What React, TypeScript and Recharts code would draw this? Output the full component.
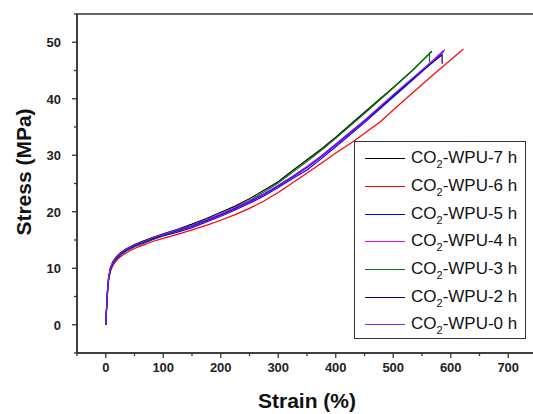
import React from 'react';
import { LineChart, Line, XAxis, YAxis, Label } from 'recharts';

type P = { strain: number; stress: number };
const pts = (arr: number[][]): P[] => arr.map(([strain, stress]) => ({ strain, stress }));

const wpu7h = pts([
  [0, 0], [1, 2.2], [3, 6.0], [5, 8.4], [8, 10.0], [12, 11.1], [18, 12.0], [25, 12.7], [35, 13.4], [50, 14.2],
  [65, 14.8], [80, 15.4], [100, 16.1], [125, 16.9], [150, 17.8], [175, 18.8], [200, 19.9], [225, 21.0], [250, 22.3],
  [275, 23.8], [300, 25.3], [325, 27.3], [350, 29.2], [375, 31.1], [400, 33.2], [450, 37.6], [500, 42.0], [535, 45.2],
  [567, 48.4],
]);
const wpu6h = pts([
  [0, 0], [1, 1.9], [3, 5.4], [5, 7.8], [8, 9.4], [12, 10.4], [18, 11.3], [25, 12.0], [35, 12.7], [50, 13.5],
  [65, 14.1], [80, 14.7], [100, 15.3], [125, 16.0], [150, 16.8], [175, 17.6], [200, 18.5], [225, 19.5], [250, 20.6],
  [275, 21.9], [300, 23.4], [338, 26.0], [375, 28.6], [400, 30.4], [430, 32.4], [477, 35.9], [500, 38.0],
  [523, 40.1], [570, 44.3], [622, 48.8],
]);
const wpu5h = pts([
  [0, 0], [1, 2.0], [3, 5.7], [5, 8.1], [8, 9.7], [12, 10.7], [18, 11.6], [25, 12.3], [35, 13.0], [50, 13.8],
  [65, 14.4], [80, 15.0], [100, 15.7], [125, 16.4], [150, 17.2], [175, 18.2], [200, 19.2], [225, 20.3], [250, 21.5],
  [275, 22.8], [300, 24.3], [325, 25.9], [350, 27.4], [375, 29.4], [400, 31.5], [450, 35.8], [500, 40.3], [550, 44.8],
  [588, 48.4],
]);
const wpu4h = pts([
  [0, 0], [1, 2.1], [3, 5.9], [5, 8.3], [8, 9.9], [12, 10.9], [18, 11.8], [25, 12.5], [35, 13.2], [50, 14.0],
  [65, 14.6], [80, 15.2], [100, 15.9], [125, 16.6], [150, 17.4], [175, 18.4], [200, 19.4], [225, 20.5], [250, 21.7],
  [275, 23.0], [300, 24.5], [325, 26.1], [350, 27.8], [375, 29.7], [400, 31.8], [450, 36.0], [500, 40.5], [550, 44.9],
  [587, 48.5],
]);
const wpu3h = pts([
  [0, 0], [1, 2.0], [3, 5.7], [5, 8.1], [8, 9.7], [12, 10.8], [18, 11.7], [25, 12.4], [35, 13.1], [50, 13.9],
  [65, 14.5], [80, 15.1], [100, 15.8], [125, 16.6], [150, 17.5], [175, 18.5], [200, 19.6], [225, 20.7], [250, 22.0],
  [275, 23.5], [300, 25.1], [325, 27.0], [350, 28.9], [375, 30.9], [400, 33.0], [450, 37.4], [500, 41.9], [535, 45.1],
  [563, 48.0], [563, 46.4],
]);
const wpu2h = pts([
  [0, 0], [1, 2.1], [3, 5.9], [5, 8.3], [8, 9.9], [12, 10.9], [18, 11.8], [25, 12.5], [35, 13.2], [50, 14.0],
  [65, 14.6], [80, 15.2], [100, 15.9], [125, 16.7], [150, 17.5], [175, 18.5], [200, 19.5], [225, 20.6], [250, 21.8],
  [275, 23.1], [300, 24.6], [325, 26.2], [350, 27.9], [375, 29.8], [400, 31.9], [450, 36.1], [500, 40.5], [550, 44.9],
  [585, 47.8], [585, 46.2],
]);
const wpu0h = pts([
  [0, 0], [1, 2.2], [3, 6.0], [5, 8.4], [8, 10.0], [12, 11.0], [18, 11.9], [25, 12.6], [35, 13.3], [50, 14.1],
  [65, 14.7], [80, 15.3], [100, 16.0], [125, 16.8], [150, 17.6], [175, 18.6], [200, 19.6], [225, 20.7], [250, 21.9],
  [275, 23.2], [300, 24.7], [325, 26.3], [350, 28.0], [375, 29.9], [400, 32.0], [450, 36.2], [500, 40.7], [550, 45.1],
  [590, 48.7],
]);

const seriesNames = ['7 h', '6 h', '5 h', '4 h', '3 h', '2 h', '0 h'];
const seriesData = [wpu7h, wpu6h, wpu5h, wpu4h, wpu3h, wpu2h, wpu0h];
const seriesColors = ['#000000', '#ff0000', '#0000ff', '#ff00ff', '#008000', '#000080', '#7f1fff'];

const xTicks = [-50, 0, 50, 100, 150, 200, 250, 300, 350, 400, 450, 500, 550, 600, 650, 700, 750];
const yTicks = [-5, 0, 5, 10, 15, 20, 25, 30, 35, 40, 45, 50, 55];

const FONT = '"Liberation Sans", Arial, sans-serif';
const AXIS = '#333333';

const XTick = (props: any) => {
  const { x, y, payload } = props;
  const major = payload.value % 100 === 0;
  return (
    <g>
      <line x1={x} x2={x} y1={y} y2={y + (major ? 5 : 3)} stroke={AXIS} strokeWidth={1.3} />
      {major && (
        <text x={x} y={y + 19} textAnchor="middle" fontFamily={FONT} fontWeight="bold" fontSize={13} fill="#222">
          {payload.value}
        </text>
      )}
    </g>
  );
};

const YTick = (props: any) => {
  const { x, y, payload } = props;
  const major = payload.value % 10 === 0;
  return (
    <g>
      <line x1={x} x2={x - (major ? 5 : 3)} y1={y} y2={y} stroke={AXIS} strokeWidth={1.3} />
      {major && (
        <text x={x - 16} y={y + 5} textAnchor="end" fontFamily={FONT} fontWeight="bold" fontSize={13} fill="#222">
          {payload.value}
        </text>
      )}
    </g>
  );
};

const LegendBox = () => (
  <div
    style={{
      position: 'absolute',
      left: 354,
      top: 141,
      width: 172,
      height: 198,
      border: '1px solid #333',
      background: '#fff',
      boxSizing: 'border-box',
      paddingTop: 3,
      fontFamily: FONT,
    }}
  >
    {seriesNames.map((n, i) => (
      <div key={n} style={{ display: 'flex', alignItems: 'center', height: 27.7 }}>
        <div style={{ width: 40, height: 0, borderTop: `1.5px solid ${seriesColors[i]}`, marginLeft: 10, marginRight: 6 }} />
        <span style={{ fontSize: 17, color: '#111', whiteSpace: 'nowrap', lineHeight: '20px' }}>
          CO<span style={{ fontSize: 11, position: 'relative', top: 5 }}>2</span>-WPU-{n}
        </span>
      </div>
    ))}
  </div>
);

export default function App() {
  return (
    <div style={{ position: 'absolute', left: 0, top: 0, width: 533, height: 414, overflow: 'hidden', background: '#fff' }}>
      <LineChart width={540} height={414} margin={{ top: 14, right: 3, left: 0, bottom: 0 }}>
        <XAxis
          type="number"
          dataKey="strain"
          domain={[-50, 750]}
          ticks={xTicks}
          interval={0}
          allowDuplicatedCategory={false}
          height={61}
          tickSize={0}
          tickMargin={0}
          tickLine={false}
          tick={<XTick />}
          axisLine={{ stroke: AXIS, strokeWidth: 1.5 }}
        >
          <Label
            content={() => (
              <text x={307} y={408} textAnchor="middle" fontFamily={FONT} fontWeight="bold" fontSize={21} fill="#111">
                Strain (%)
              </text>
            )}
          />
        </XAxis>
        <YAxis
          type="number"
          domain={[-5, 55]}
          ticks={yTicks}
          interval={0}
          width={77}
          tickSize={0}
          tickMargin={0}
          tickLine={false}
          tick={<YTick />}
          axisLine={{ stroke: AXIS, strokeWidth: 1.5 }}
        >
          <Label
            content={() => (
              <g>
                <rect x={77} y={14} width={460} height={339} fill="none" stroke={AXIS} strokeWidth={1.5} />
                <text
                  x={31}
                  y={172}
                  textAnchor="middle"
                  transform="rotate(-90 31 172)"
                  fontFamily={FONT}
                  fontWeight="bold"
                  fontSize={21}
                  fill="#111"
                >
                  Stress (MPa)
                </text>
              </g>
            )}
          />
        </YAxis>
        {seriesData.map((d, i) => (
          <Line
            key={seriesNames[i]}
            data={d}
            dataKey="stress"
            name={`CO2-WPU-${seriesNames[i]}`}
            stroke={seriesColors[i]}
            strokeWidth={1.2}
            dot={false}
            isAnimationActive={false}
            type="linear"
          />
        ))}
      </LineChart>
      <LegendBox />
    </div>
  );
}
